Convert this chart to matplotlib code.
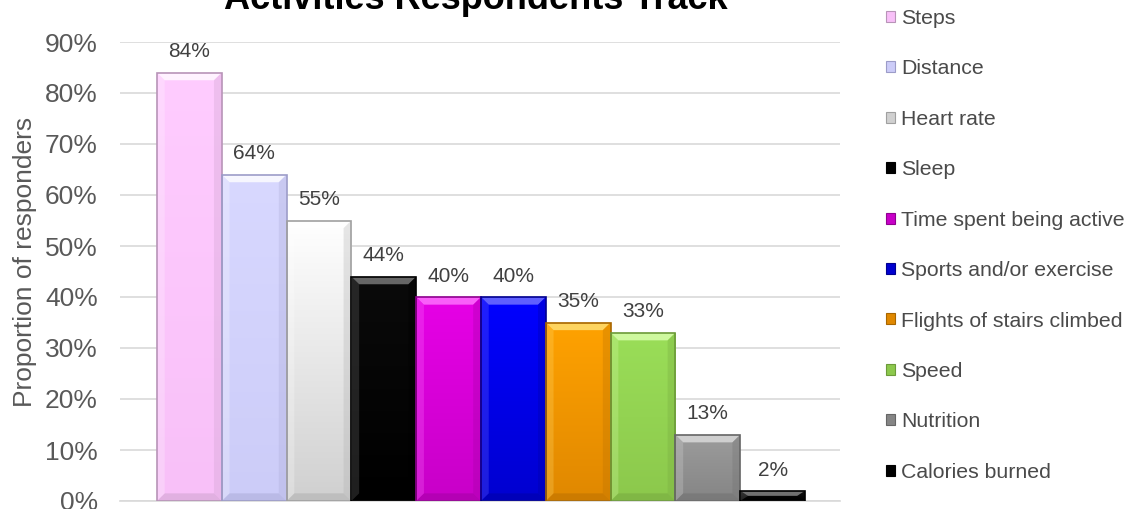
import numpy as np
import matplotlib.pyplot as plt
from matplotlib.colors import LinearSegmentedColormap, to_rgb
from matplotlib.patches import Polygon, Patch

activities = ['Steps', 'Distance', 'Heart rate', 'Sleep', 'Time spent being active',
              'Sports and/or exercise', 'Flights of stairs climbed', 'Speed',
              'Nutrition', 'Calories burned']
shares = [0.84, 0.64, 0.55, 0.44, 0.40, 0.40, 0.35, 0.33, 0.13, 0.02]

# top colour, bottom colour, edge colour for each bar
top_colors = ['#ffccff', '#d8d8ff', '#ffffff', '#0a0a0a', '#e600e6',
              '#0000ff', '#ffa200', '#9ade58', '#9c9c9c', '#1a1a1a']
bottom_colors = ['#f8c0f8', '#ccccf8', '#d0d0d0', '#000000', '#c800c8',
                 '#0000d0', '#e08800', '#8cc84c', '#858585', '#000000']
edge_colors = ['#b894b8', '#9c9cc8', '#a0a0a0', '#000000', '#900090',
               '#000090', '#a86600', '#6c9a3a', '#666666', '#000000']

plt.rcParams['font.family'] = ['Liberation Sans', 'DejaVu Sans']

fig = plt.figure(figsize=(11.26, 5.09), dpi=100)
ax = fig.add_axes([120 / 1126, 1 - 501 / 509, 720 / 1126, 459 / 509])

x = np.arange(len(shares))
bars = ax.bar(x, shares, width=1.0, color='none', edgecolor='none', zorder=2)

# gradient fill plus a simple bevel on each bar
bevel_x, bevel_y = 0.12, 0.015
for rect, top, bot, edge in zip(bars, top_colors, bottom_colors, edge_colors):
    x0, y0 = rect.get_x(), rect.get_y()
    w, h = rect.get_width(), rect.get_height()
    cmap = LinearSegmentedColormap.from_list('g', [bot, top])
    grad = np.linspace(0, 1, 100).reshape(-1, 1)
    im = ax.imshow(grad, cmap=cmap, origin='lower', aspect='auto',
                   extent=[x0, x0 + w, y0, y0 + h], zorder=2, interpolation='bicubic')
    im.set_clip_path(rect)
    t = np.array(to_rgb(top))
    e = np.array(to_rgb(edge))
    by = min(bevel_y, h / 2)
    bx = bevel_x
    light = np.clip(t + 0.35 * (1 - t) + 0.12, 0, 1)
    dark = 0.7 * e + 0.3 * np.array(to_rgb(bot))
    ax.add_patch(Polygon([(x0, y0 + h), (x0 + w, y0 + h), (x0 + w - bx, y0 + h - by),
                          (x0 + bx, y0 + h - by)], closed=True, facecolor=light,
                         edgecolor='none', alpha=0.8, zorder=3))
    ax.add_patch(Polygon([(x0, y0), (x0 + w, y0), (x0 + w - bx, y0 + by),
                          (x0 + bx, y0 + by)], closed=True, facecolor=dark,
                         edgecolor='none', alpha=0.5, zorder=3))
    ax.add_patch(Polygon([(x0 + w, y0), (x0 + w, y0 + h), (x0 + w - bx, y0 + h - by),
                          (x0 + w - bx, y0 + by)], closed=True, facecolor=dark,
                         edgecolor='none', alpha=0.3, zorder=3))
    ax.add_patch(Polygon([(x0, y0), (x0, y0 + h), (x0 + bx, y0 + h - by),
                          (x0 + bx, y0 + by)], closed=True, facecolor=light,
                         edgecolor='none', alpha=0.25, zorder=3))
    ax.add_patch(plt.Rectangle((x0, y0), w, h, facecolor='none', edgecolor=edge,
                               linewidth=1.2, zorder=4))

for xi, v in zip(x, shares):
    ax.annotate(f'{v:.0%}', (xi, v), xytext=(0, 11), textcoords='offset points',
                ha='center', va='baseline', fontsize=15, color='#404040')

ax.set_xlim(-1.07, 10.04)
ax.set_ylim(0, 0.9)
ax.set_yticks(np.arange(0, 0.91, 0.1))
ax.set_yticklabels([f'{t:.0%}' for t in np.arange(0, 0.91, 0.1)])
ax.set_xticks([])
ax.tick_params(axis='y', length=0, pad=16, labelsize=19, labelcolor='#595959')
ax.yaxis.grid(True, color='#d9d9d9', linewidth=1.2)
ax.set_axisbelow(True)
for side in ['top', 'right', 'left']:
    ax.spines[side].set_visible(False)
ax.spines['bottom'].set_color('#d9d9d9')
ax.spines['bottom'].set_linewidth(1.2)

ax.set_ylabel('Proportion of responders', fontsize=19, color='#595959')
ax.yaxis.set_label_coords(-83 / 720, 0.52)

fig.text(476 / 1126, 1 - 9 / 509, 'Activities Respondents Track', ha='center',
         va='baseline', fontsize=26, fontweight='bold', color='black')

handles = [Patch(facecolor=top, edgecolor=edge, linewidth=0.8)
           for top, edge in zip(bottom_colors, edge_colors)]
fig.legend(handles, activities, loc='center left', bbox_to_anchor=(875 / 1126, 0.518),
           frameon=False, fontsize=15.3, labelcolor='#4a4a4a', handlelength=0.42,
           handleheight=0.42, handletextpad=0.3, labelspacing=1.48, borderpad=0)

fig.savefig('out.png', dpi=100)
